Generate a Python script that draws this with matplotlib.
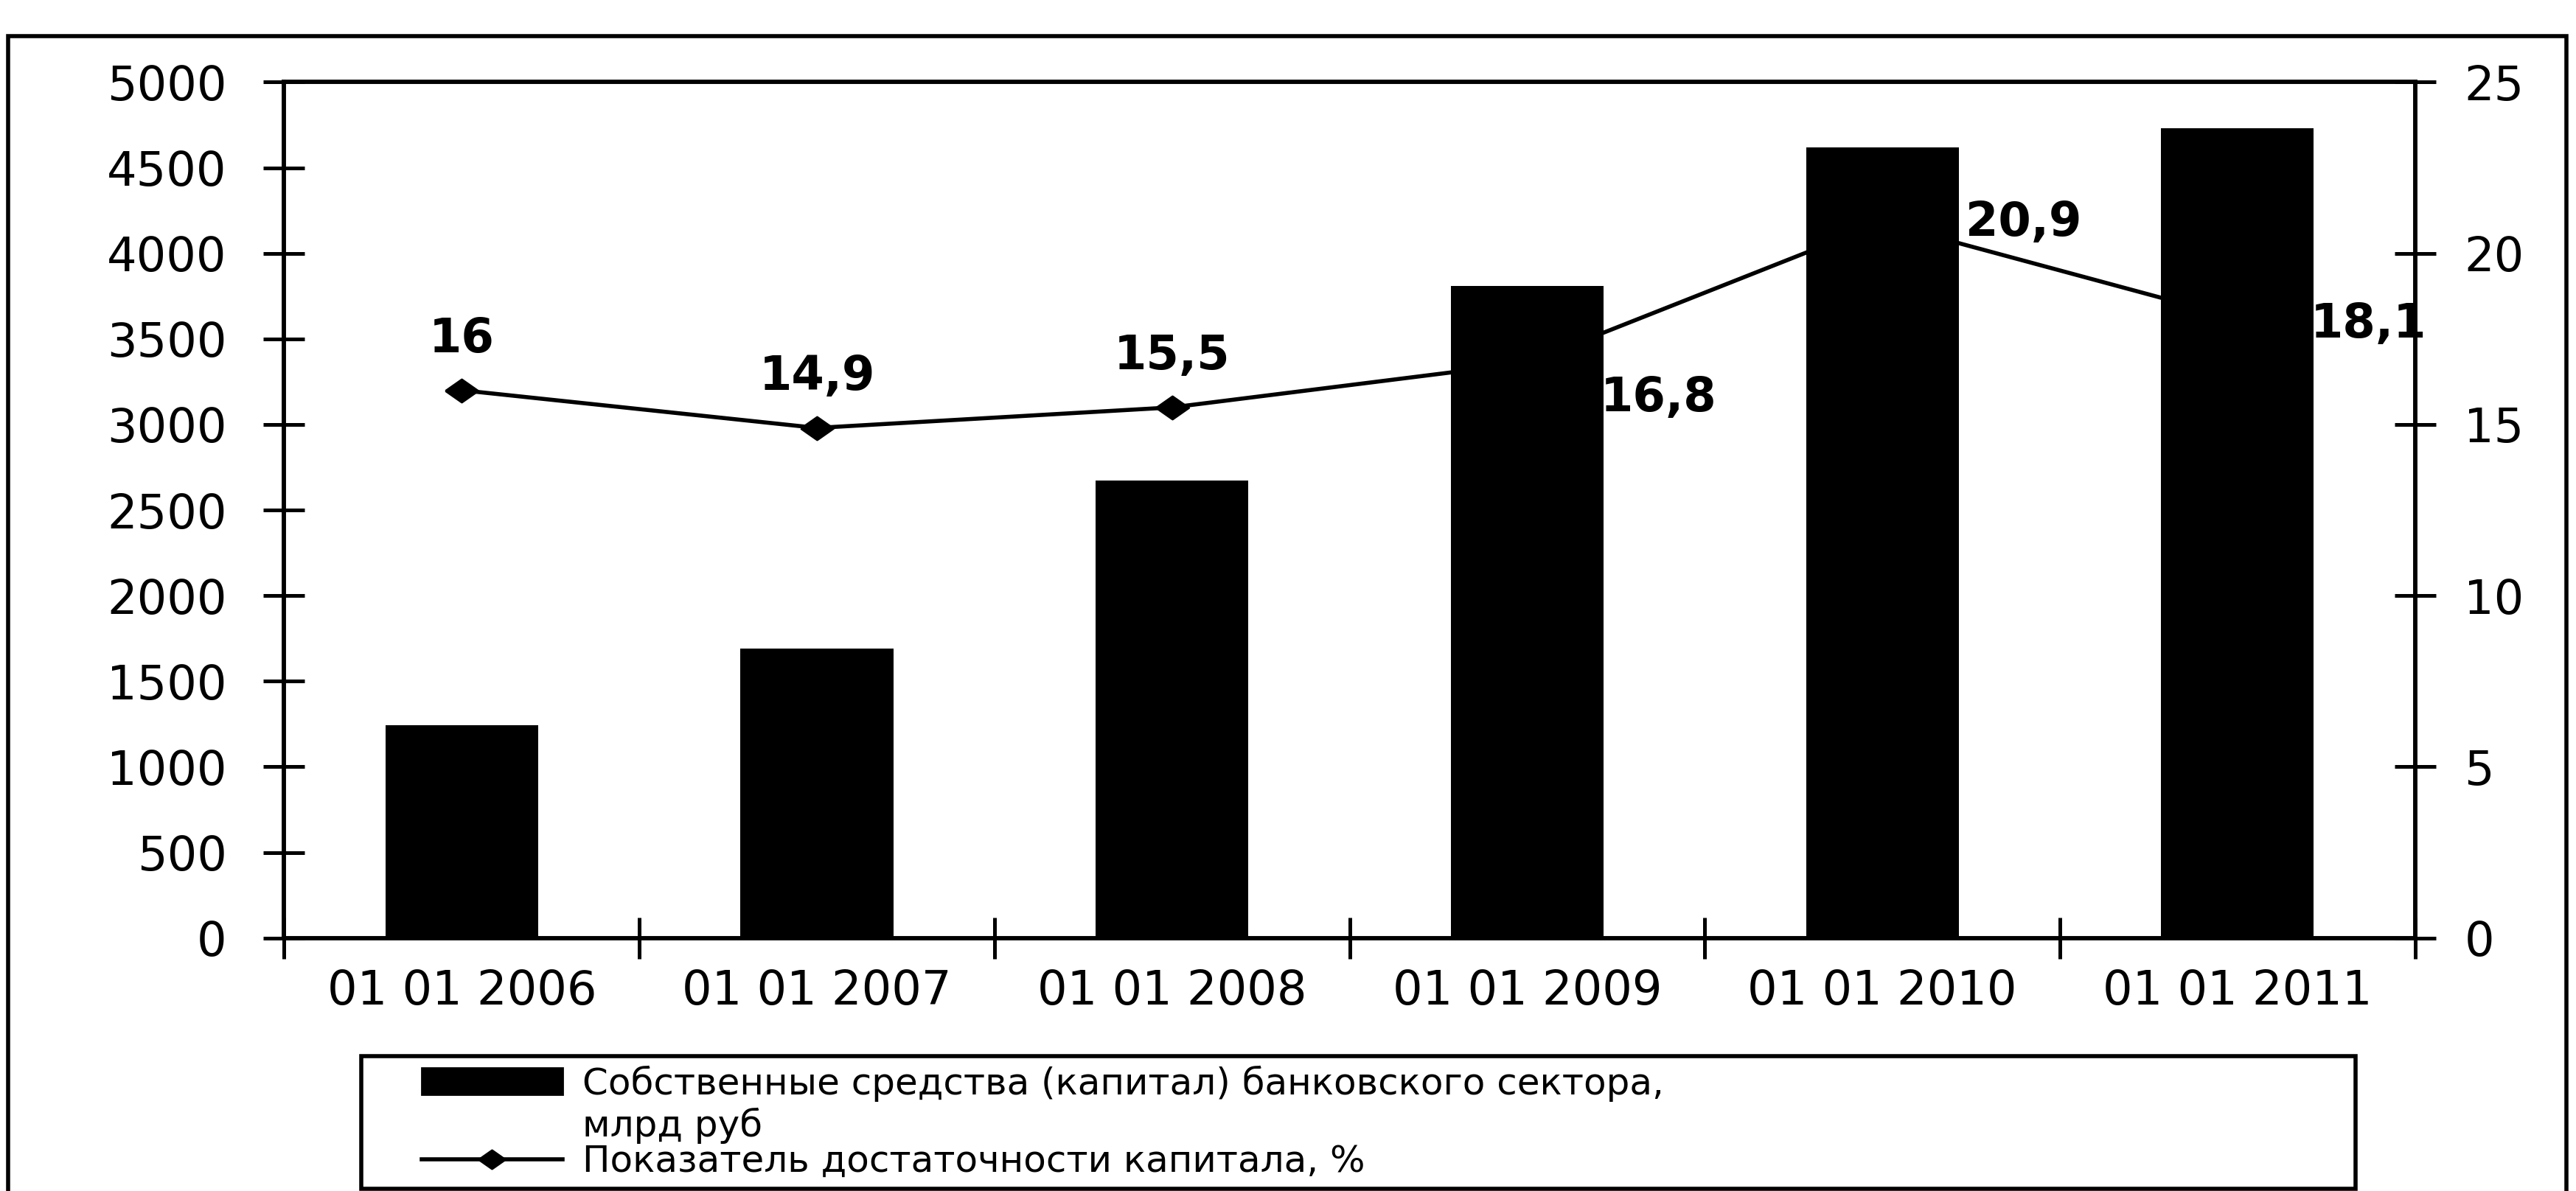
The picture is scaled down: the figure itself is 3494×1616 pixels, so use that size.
import numpy as np
import matplotlib.pyplot as plt
from matplotlib.patches import Rectangle
from matplotlib.lines import Line2D
from matplotlib.legend_handler import HandlerBase

# Data
dates = ['01 01 2006', '01 01 2007', '01 01 2008', '01 01 2009', '01 01 2010', '01 01 2011']
capital = [1241.8, 1692.7, 2671.5, 3811.1, 4620.6, 4732.3]   # млрд руб
adequacy = [16.0, 14.9, 15.5, 16.8, 20.9, 18.1]             # %
adequacy_text = ['16', '14,9', '15,5', '16,8', '20,9', '18,1']

bar_label = 'Собственные средства (капитал) банковского сектора,\nмлрд руб'
line_label = 'Показатель достаточности капитала, %'

# label offsets in points (style, not data)
label_offsets = [(0, 25), (0, 25), (0, 25), (64, -17), (69, 0), (64, -3)]

# wide diamond, like the scanned original
diamond = [(-1, 0), (0, 0.7), (1, 0), (0, -0.7), (-1, 0)]

plt.rcParams['font.family'] = ['DejaVu Sans']
fs = 23
leg_fs = 18


class BarHandler(HandlerBase):
    # black box, moved to the first line of the two-line label
    def create_artists(self, legend, orig_handle, xdescent, ydescent,
                       width, height, fontsize, trans):
        off = 25
        r = Rectangle((-xdescent + off, -ydescent + 12), width - off, height,
                      facecolor='black', edgecolor='black', transform=trans)
        return [r]


class LineHandler(HandlerBase):
    def create_artists(self, legend, orig_handle, xdescent, ydescent,
                       width, height, fontsize, trans):
        off = 25
        y = height / 2 - ydescent
        x0, x1 = -xdescent + off, width - xdescent
        ln = Line2D([x0, x1], [y, y], color='black', lw=2, transform=trans)
        mk = Line2D([(x0 + x1) / 2], [y], color='black', marker=diamond, ms=13,
                    ls='', transform=trans)
        return [ln, mk]


fig = plt.figure(figsize=(17.47, 8.08), dpi=200)
ax = fig.add_axes([173 / 1568, 1 - 571 / 725, (1470 - 173) / 1568, (571 - 50) / 725])
ax2 = ax.twinx()
# bars in front of the line
ax.set_zorder(ax2.get_zorder() + 1)
ax.patch.set_visible(False)

x = np.arange(len(dates))
bars = ax.bar(x, capital, width=0.43, color='black', label=bar_label)
line, = ax2.plot(x, adequacy, color='black', lw=2, marker=diamond, ms=16, label=line_label)

for xi, yi, txt, off in zip(x, adequacy, adequacy_text, label_offsets):
    ax2.annotate(txt, (xi, yi), xytext=off, textcoords='offset points',
                 ha='center', va='center', fontsize=fs, fontweight='bold')

ax.set_xlim(-0.5, len(dates) - 0.5)
ax.set_ylim(0, 5000)
ax2.set_ylim(0, 25)
ax.set_yticks(range(0, 5001, 500))
ax2.set_yticks(range(0, 26, 5))

ax.set_xticks(np.arange(-0.5, len(dates), 1))
ax.set_xticklabels([])
ax.set_xticks(x, minor=True)
ax.set_xticklabels(dates, minor=True)
ax.tick_params(axis='x', which='minor', length=0, pad=15, labelsize=fs)
ax.tick_params(axis='x', which='major', direction='inout', length=20, width=1.8)
ax.tick_params(axis='y', direction='inout', length=20, width=1.8, pad=18, labelsize=fs)
ax2.tick_params(axis='y', direction='inout', length=20, width=1.8, pad=14, labelsize=fs)

for a in (ax, ax2):
    for s in a.spines.values():
        s.set_linewidth(2)

# outer frame of the picture
fig.add_artist(Rectangle((0.0032, -0.05), 0.993, 1.0197, transform=fig.transFigure,
                         fill=False, lw=2, ec='black'))

leg = fig.legend([bars, line], [bar_label, line_label], loc='upper left',
                 bbox_to_anchor=(220 / 1568, 1 - 643 / 725, 1214 / 1568, 0),
                 bbox_transform=fig.transFigure, mode='expand', borderaxespad=0,
                 handler_map={bars: BarHandler(), line: LineHandler()},
                 fancybox=False, edgecolor='black', framealpha=1, fontsize=leg_fs,
                 handlelength=5.2, handleheight=0.75, borderpad=0.25,
                 labelspacing=0.0, handletextpad=0.55)
leg.get_frame().set_linewidth(2)
for t in leg.get_texts():
    t.set_linespacing(1.2)

fig.savefig('out.png', dpi=200)
